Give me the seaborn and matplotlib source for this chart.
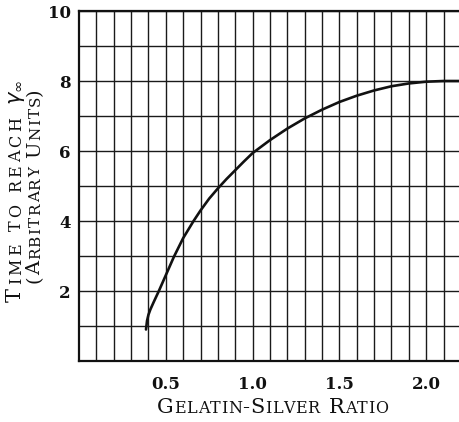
import numpy as np
import pandas as pd
import seaborn as sns
import matplotlib
matplotlib.use('Agg')
import matplotlib.pyplot as plt
from matplotlib.transforms import IdentityTransform

# Data
ratio = [0.386, 0.392, 0.40, 0.411, 0.43, 0.46, 0.50, 0.547, 0.60, 0.66, 0.70,
         0.75, 0.80, 0.85, 0.90, 0.95, 1.0, 1.1, 1.2, 1.3, 1.4, 1.5, 1.6, 1.7,
         1.8, 1.9, 2.0, 2.1, 2.2]
time_units = [0.90, 1.15, 1.32, 1.47, 1.68, 2.0, 2.45, 2.98, 3.51, 4.0, 4.30,
              4.64, 4.93, 5.20, 5.45, 5.70, 5.94, 6.31, 6.64, 6.93, 7.18, 7.40,
              7.58, 7.73, 7.85, 7.93, 7.98, 8.0, 8.0]

x_tick_values = [0.5, 1.0, 1.5, 2.0]
x_tick_labels = ["0.5", "1.0", "1.5", "2.0"]
y_tick_values = [2, 4, 6, 8, 10]
y_tick_labels = ["2", "4", "6", "8", "10"]

SERIF = "DejaVu Serif"
INK = "#111111"
W, H = 459, 422


def small_caps(fig, cx, cy, text, big, small, target, rotation=0, tail=None):
    """Letter-spaced small caps centred on (cx, cy) along the baseline (pixels)."""
    chars = []
    for ch in text:
        if ch == " ":
            chars.append((None, big))
        elif ch.isascii() and ch.islower():
            chars.append((ch.upper(), small))
        else:
            chars.append((ch, big))
    if tail:
        chars.append((None, big))
        chars.append((tail, big))

    renderer = fig.canvas.get_renderer()
    lens = []
    for s, size in chars:
        if s is None:
            lens.append(0.0)
            continue
        t = fig.text(0, 0, s, fontsize=size, family=SERIF, rotation=rotation,
                     transform=IdentityTransform())
        bb = t.get_window_extent(renderer)
        t.remove()
        lens.append(bb.height if rotation == 90 else bb.width)

    # no extra gap into a space; brackets sit close to their neighbours
    weights = []
    for i in range(1, len(chars)):
        a, b = chars[i - 1][0], chars[i][0]
        if b is None:
            weights.append(0.0)
        elif a == "(" or b == ")":
            weights.append(0.3)
        else:
            weights.append(1.0)

    word = 0.40 * big * fig.dpi / 72
    n_space = sum(1 for s, _ in chars if s is None)
    gap = (target - sum(lens) - n_space * word) / sum(weights)

    pos = -target / 2
    for i, ((s, size), ln) in enumerate(zip(chars, lens)):
        if i > 0:
            pos += gap * weights[i - 1]
        if s is None:
            pos += word
            continue
        xy = (cx, cy + pos) if rotation == 90 else (cx + pos, cy)
        fig.text(xy[0], xy[1], s, fontsize=size, family=SERIF, rotation=rotation,
                 rotation_mode='anchor', ha='left', va='baseline',
                 transform=IdentityTransform(), color=INK)
        pos += ln


sns.set_theme(style="white")
plt.rcParams['font.family'] = [SERIF, 'DejaVu Sans']

fig = plt.figure(figsize=(W / 100, H / 100), dpi=100)
ax = fig.add_axes([79 / W, 1 - 361 / H, 381 / W, 350 / H])

df = pd.DataFrame({"ratio": ratio, "time": time_units})
sns.lineplot(data=df, x="ratio", y="time", color=INK, linewidth=1.9, ax=ax, sort=True)

ax.set_xlim(0, 2.195)
ax.set_ylim(0, 10)

ax.set_xticks(x_tick_values)
ax.set_xticklabels(x_tick_labels, fontsize=12, fontweight='bold', color=INK)
ax.set_xticks(np.arange(0.1, 2.2, 0.1), minor=True)
ax.set_yticks(y_tick_values)
ax.set_yticklabels(y_tick_labels, fontsize=12, fontweight='bold', color=INK)
ax.set_yticks(np.arange(1, 10, 1), minor=True)
ax.tick_params(axis='x', which='both', length=0, pad=11)
ax.tick_params(axis='y', which='both', length=0, pad=6)

ax.grid(True, which='both', color='#1a1a1a', linewidth=1.0)
ax.set_axisbelow(True)
for side in ['left', 'bottom', 'top']:
    ax.spines[side].set_visible(True)
    ax.spines[side].set_color(INK)
    ax.spines[side].set_linewidth(1.6)
ax.spines['right'].set_visible(False)
ax.set_xlabel("")
ax.set_ylabel("")

fig.canvas.draw()
small_caps(fig, 272.5, 9, "Gelatin-Silver Ratio", 15, 11.5, target=231)
small_caps(fig, 21, H - 191, "Time to reach", 15, 11.5, target=222,
           rotation=90, tail=r"$\gamma_{\infty}$")
small_caps(fig, 40, H - 185.5, "(Arbitrary Units)", 14, 11, target=195, rotation=90)

fig.savefig("out.png", dpi=100)
